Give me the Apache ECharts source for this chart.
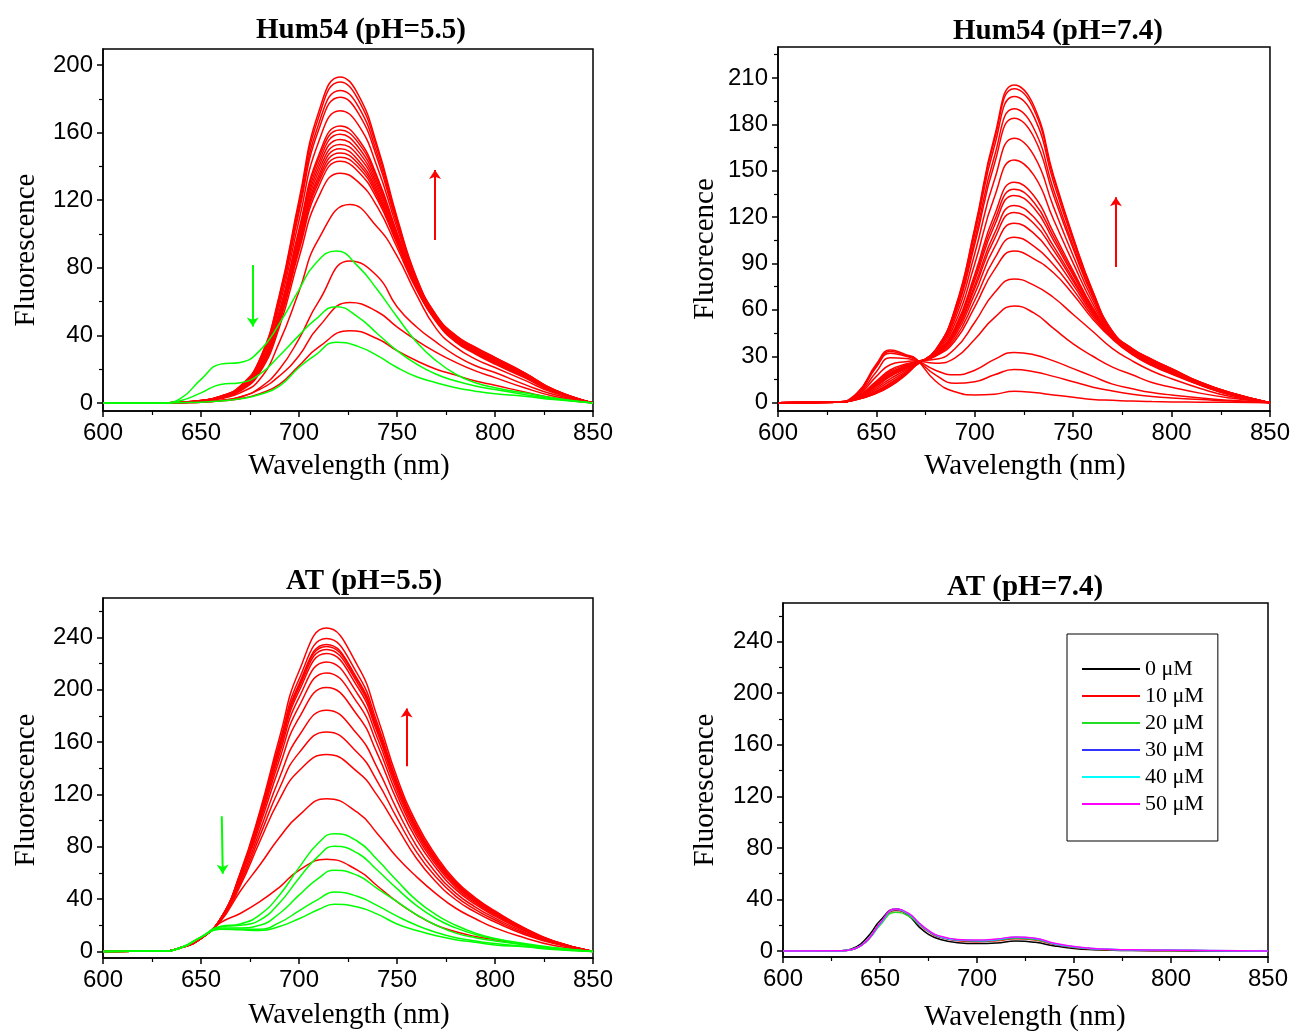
<!DOCTYPE html>
<html><head><meta charset="utf-8">
<script src="https://cdn.jsdelivr.net/npm/echarts/dist/echarts.min.js"></script>
<style>html,body{margin:0;padding:0;background:#fff}#c{width:1293px;height:1033px}</style>
</head><body><div id="c"></div><script>
// ---------------- DATA ----------------
// Hum54 pH 5.5
const wl1 = [600,630,640,650,660,670,680,690,700,710,721,730,740,750,760,770,780,790,800,815,830,850];
const hum55Red = [
 [0,0,0.5,1.5,4,10,26,64,120,172,193,183,152,110,74,52,40,33,27,18,8,0],
 [0,0,0.5,1.5,4,9.8,25.6,63,118,169,190,180,150,109,73.6,51.8,39.8,32.8,26.8,17.8,7.9,0],
 [0,0,0.5,1.4,3.9,9.6,24.9,61.3,115,165,185,176,147,107.5,73,51.4,39.4,32.4,26.4,17.6,7.8,0],
 [0,0,0.5,1.4,3.8,9.4,24.3,60,112.9,161.5,181,172,144.4,106,72.5,51.2,39.2,32.2,26.2,17.4,7.7,0],
 [0,0,0.4,1.3,3.7,9,23.2,57.4,108,154.5,173,165,139.4,103.7,71.6,50.6,38.6,31.6,25.6,17,7.5,0],
 [0,0,0.4,1.2,3.5,8.5,21.9,54.3,102.7,146.5,164,156.5,133.6,100.8,70.4,50,38,31,25,16.5,7.2,0],
 [0,0,0.4,1.2,3.5,8.4,21.6,53.6,101.3,144.5,161.5,154.4,132.2,100.1,70.2,49.8,37.8,30.8,24.8,16.4,7.2,0],
 [0,0,0.4,1.2,3.4,8.2,21.2,52.6,99.6,142,159,151.8,130.4,99.2,69.8,49.6,37.6,30.6,24.6,16.2,7.1,0],
 [0,0,0.4,1.2,3.4,8,20.8,51.7,97.9,139.5,156,149.2,128.6,98.3,69.5,49.4,37.4,30.4,24.4,16,7,0],
 [0,0,0.4,1.1,3.3,7.9,20.4,50.7,96.2,137,153,146.6,126.8,97.4,69.1,49.2,37.2,30.2,24.2,15.9,6.9,0],
 [0,0,0.4,1.1,3.3,7.8,20,49.8,94.5,134.5,150.5,144,125,96.5,68.8,49,37,30,24,15.8,6.9,0],
 [0,0,0.3,1.1,3.2,7.6,19.7,49,93.1,132.5,148,141.9,123.6,95.8,68.5,48.8,36.8,29.8,23.8,15.6,6.8,0],
 [0,0,0.3,1.1,3.2,7.5,19.4,48.2,91.8,130.5,145.5,139.8,122.1,95.1,68.2,48.7,36.7,29.7,23.7,15.5,6.8,0],
 [0,0,0.3,1,3.1,7.4,19,47.3,90.1,128,143,137.2,120.3,94.2,67.8,48.5,36.5,29.5,23.5,15.4,6.7,0],
 [0,0,0.3,1,3,7,18,45,86,122,136,131,116,92,67,48,36,29,23,15,6.5,0]
];
const wl1Low = [600,630,640,650,660,670,680,690,700,710,726,740,750,760,770,780,790,800,815,830,850];
const hum55RedLow = [
 [0,0,0.2,0.8,2.5,6,14,36,66,97,117.5,104,87,64,44,33,26,21,13.5,6,0],
 [0,0,0.2,0.5,1.5,3.5,9,20,38,60,84,75,57,45,36,28,22,18,11,5,0],
 [0,0,0.2,0.5,1.5,3.5,8,16,28,45,59.5,54,45,37,30,24,19,15,9,4,0],
 [0,0,0.2,0.5,1.2,2.5,5.5,11,22,33,42.8,38,31,25,20,16.5,13,10.5,6.5,3,0]
];
const wl1Green = [600,630,640,650,660,670,680,690,700,708,719,730,740,750,760,770,780,790,800,815,830,850];
const hum55Green = [
 [0,0,3,14,23,24,31,47,67,82,90,81,67,51,36,25,17,12,9,6,3,0],
 [0,0,1.5,6,11,12,17,28,40,49,57,51,41,31,23,17,13,10,8,5,2.5,0],
 [0,0,0.2,0.5,1.2,2.5,5,10,21,28,36,33.5,28,21,15.5,12,9,7,5.5,4,2,0]
];
// Hum54 pH 7.4
const wl2 = [600,630,640,650,657,665,670,680,690,700,710,720,730,740,750,760,770,780,790,800,815,830,850];
const hum74Red = [
 [0,0.2,2,6,10.5,18,24,34,61,113,172,205.5,192,147,107,72,46,35,28,22,13,6.5,0],
 [0,0.2,2,6.2,10.9,18.2,24.1,33.9,60.5,111.8,170,203,189.7,145.6,106.1,71.6,45.9,34.9,27.9,21.9,13,6.5,0],
 [0,0.2,2.1,6.6,11.4,18.5,24.2,33.7,59.6,109.4,166,198,185.1,142.6,104.4,70.7,45.7,34.7,27.7,21.8,12.9,6.4,0],
 [0,0.2,2.2,7.2,12.2,19,24.4,33.4,57.9,105.5,159.3,190,177.3,137.7,101.5,69.3,45.3,34.4,27.4,21.5,12.7,6.3,0],
 [0,0.2,2.3,7.6,12.7,19.4,24.5,33.2,56.7,102.6,154.5,184,171.8,134.1,99.5,68.3,45,34.2,27.2,21.3,12.6,6.2,0],
 [0,0.2,2.5,8.6,14,20.3,24.8,32.7,54.2,96.5,144.1,171,159.9,126.6,95,66.2,44.4,33.7,26.7,20.9,12.4,6,0],
 [0,0.3,2.7,9.6,15.4,21.2,25.1,32.2,51.4,89.8,133,157,147.1,118.4,90.2,63.8,43.7,33.2,26.2,20.4,12.1,5.8,0],
 [0,0.3,2.9,10.7,16.9,22.1,25.5,31.6,48.7,83,121.4,142.5,133.8,110,85.2,61.4,43.1,32.6,25.6,19.9,11.8,5.6,0],
 [0,0.3,2.9,11,17.3,22.4,25.6,31.5,47.8,80.9,117.8,138,129.6,107.3,83.7,60.7,42.9,32.5,25.5,19.8,11.7,5.6,0],
 [0,0.3,3,11.3,17.7,22.7,25.7,31.3,47.1,79,114.6,134,126,105,82.3,60,42.7,32.3,25.3,19.7,11.7,5.5,0],
 [0,0.3,3.1,11.8,18.3,23.1,25.8,31.1,45.8,75.9,109.5,127.5,120,101.2,80.1,58.9,42.4,32.1,25.1,19.5,11.5,5.4,0],
 [0,0.3,3.2,12.2,18.8,23.4,25.9,30.9,44.9,73.8,105.9,123,115.9,98.6,78.5,58.2,42.2,31.9,24.9,19.3,11.5,5.3,0],
 [0,0.3,3.3,12.7,19.4,23.8,26.1,30.7,43.5,70.5,100.4,116,109.5,94.5,76.2,57,41.8,31.7,24.7,19.1,11.3,5.3,0],
 [0,0.3,3.4,13.3,20.3,24.4,26.3,30.3,41.7,66.2,93.1,107,101.2,89.2,73.1,55.5,41.4,31.3,24.3,18.8,11.2,5.1,0],
 [0,0.3,3.5,14,21.2,25,26.5,30,40,62,86,98,93,84,70,54,41,31,24,18.5,11,5,0],
 [0,0.4,4,17,24.5,26.5,27,28,35,52,71,80,76,68,57,46,35,27,20.5,15.5,9,4,0],
 [0,0.4,4.5,20,29,28.5,27.5,25.5,29,41,55,62.5,58,48,38,30,23,18,13,10,6,3,0],
 [0,0.5,5,23,32,30,28,21,18,21,28,32.5,31,27,22,17,12,9,6.5,5,3,1.5,0],
 [0,0.5,5.5,24,33,30.5,28,18,12.5,13.5,18,21.5,20,17,13.5,10,7.5,5.5,4,3,2,1,0],
 [0,0.5,6,25,34,31,28.5,14,7,5,5.5,7.3,6.5,5,3.5,2,1.5,1,0.7,0.5,0.3,0.2,0]
];
// AT pH 5.5
const wl3Red = [600,630,640,650,660,670,680,690,700,714,730,740,750,760,770,780,790,800,815,830,850];
const at55Red = [
 [0,0.3,3,10,25,60,107,163,214,247,218,179,133,98,73,54,41,31,18,8,0],
 [0,0.3,3,10,25,59.2,105.2,159.2,207.9,239,211.5,174.2,130,95.8,71.4,52.8,40.1,30.3,17.6,7.8,0],
 [0,0.3,3,10,25,58.7,104.1,157,204.3,234.5,207.7,171.4,128.2,94.6,70.5,52.2,39.6,29.9,17.4,7.7,0],
 [0,0.3,3,10,25,58.6,103.7,156.3,203.2,233,206.5,170.5,127.6,94.2,70.2,51.9,39.4,29.8,17.3,7.7,0],
 [0,0.3,3,10,25,58.3,103.2,155.2,201.4,230.7,204.6,169,126.7,93.5,69.7,51.6,39.2,29.6,17.2,7.7,0],
 [0,0.3,3,10,25,58,102.4,153.6,198.8,227.6,201.8,167,125.4,92.6,69,51.1,38.8,29.3,17,7.6,0],
 [0,0.3,3,10,25,57.4,100.9,150.5,193.9,221.2,196.5,163.1,122.9,90.8,67.7,50.2,38.1,28.7,16.7,7.5,0],
 [0,0.3,3,10,24.8,56.5,98.9,146.5,187.2,212.8,189.5,157.9,119.6,88.5,66,48.9,37.1,28,16.2,7.3,0],
 [0,0.3,3,10,24.6,55.3,96.2,141,178.4,201.6,180.1,150.9,115.2,85.4,63.6,47.2,35.9,27,15.7,7.1,0],
 [0,0.3,3,10,24.4,53.5,92.1,132.5,164.8,184.3,165.5,140.1,108.4,80.5,60,44.6,33.9,25.5,14.8,6.7,0],
 [0,0.3,3,10,24.2,51.8,88.1,124.5,151.7,167.7,151.6,129.8,101.8,75.9,56.6,42.1,32,24,13.9,6.4,0],
 [0,0.3,3,10,24,50,84,116,138,150.4,137,119,95,71,53,39.5,30,22.5,13,6,0],
 [0,0.3,3,10,23,46,66,87,104,116.7,106,90,72,57,44,33,25,18,10.5,4.5,0],
 [0,0.3,3,10,22,29,38,49,62,70.4,62,50,38,28,20,15,11.5,9,5.5,2.5,0]
];
const wl3Green = [600,630,640,650,660,670,680,690,700,710,718,730,740,750,760,770,780,790,800,815,830,850];
const at55Green = [
 [0,0.3,3,11,19,21,28,43,64,83,90,84,70,54,39,28,20,14,10,6,3,0],
 [0,0.3,3,11,19,20,24,37,56,73,80.4,75,62,48,35,25,18,13,9.5,5.5,2.5,0],
 [0,0.3,3,11,18,18,20,29,43,56,62,58,48,38,28,20,14,10.5,8,5,2.5,0],
 [0,0.3,3,11,17,17,17,22,31,40,45.4,42,35,27,20,14.5,10.5,8,6,4,2,0],
 [0,0.3,3,11,17,16.5,16,19,25,32,36,34,28.5,21,16,12,9,7,5,3.5,1.5,0]
];
// AT pH 7.4
const wl4 = [600,630,635,640,645,650,658,665,670,675,680,690,700,710,720,730,740,750,760,770,780,800,820,850];
const at74Names = ['0 μM','10 μM','20 μM','30 μM','40 μM','50 μM'];
const at74 = [
 [0,0.3,1.5,5.5,13.5,23.5,32.7,27,19,13,9.5,6.5,5.8,6.3,7.8,6.8,4,2,1,0.6,0.4,0.2,0.1,0],
 [0,0.2,1,4,11,21,31.5,28,21,15,11,8,7.3,8,9.5,8.5,5,2.8,1.5,1,0.7,0.4,0.2,0],
 [0,0.2,1,4,10.5,20,30.2,27,21,15.5,11.5,8.5,7.8,8.5,10,9,5.5,3,1.7,1.1,0.8,0.5,0.3,0],
 [0,0.2,1,4,11,21,32.2,28.5,21.5,15.5,11.5,8.5,8,8.8,10.5,9.5,5.5,3.2,1.8,1.2,0.9,0.6,0.3,0],
 [0,0.2,1,4,11,21,32.4,28.7,21.7,15.7,11.7,8.7,8.2,9,10.7,9.7,5.7,3.3,1.9,1.3,1,0.7,0.4,0],
 [0,0.2,1,4,11,21.5,32.7,29,22,16,12,9,8.5,9.3,11,10,6,3.5,2,1.3,1,0.7,0.4,0]
];
// arrow annotations (data coordinates: [[x0,y0],[x1,y1]])
const hum55Arrows = [[[769.4,96.4],[769.4,137.9]], [[676.4,81.7],[676.4,45.2]]];
const hum74Arrows = [[[771.7,87.7],[771.7,132.9]]];
const at55Arrows = [[[754.9,141.4],[754.9,185.5]], [[660.6,103.2],[661.1,59.4]]];
// axis ticks
const yMajor = [[0,40,80,120,160,200],[0,30,60,90,120,150,180,210],[0,40,80,120,160,200,240],[0,40,80,120,160,200,240]];
const yMinor = [[20,60,100,140,180],[15,45,75,105,135,165,195,225],[20,60,100,140,180,220,260],[20,60,100,140,180,220,260]];
const yRange = [[-4.75,209.5],[-5.4,230],[-5,270],[-4.6,270]];
const titles = ['Hum54 (pH=5.5)','Hum54 (pH=7.4)','AT (pH=5.5)','AT (pH=7.4)'];
const yNames = ['Fluorescence','Fluorecence','Fluorescence','Fluorescence'];

// ---------------- LAYOUT / STYLE ----------------
const RED = '#ff0000', GREEN = '#00ff00';
const at74Colors = ['#000000','#ff0000','#22dd22','#3333ff','#00ffff','#ff00ff'];
const grids = [
 {left:103, top:49, width:490, height:362},
 {left:778, top:47, width:492, height:364},
 {left:103, top:598, width:490, height:360},
 {left:783, top:603, width:485, height:354}
];
const titlePos = [[361,31],[1058,32],[364,582],[1025,588]];
const yNamePos = [[26,250],[705,249],[26,790],[705,790]];
const xNamePos = [[349,466],[1025,466],[349,1015],[1025,1017]];

const xAxes = [], yAxes = [];
grids.forEach((g,i)=>{
  g.show = true; g.borderColor = '#000'; g.borderWidth = 1.5; g.containLabel = false;
  xAxes.push({gridIndex:i, type:'value', min:600, max:850, interval:50,
    axisLine:{onZero:false, lineStyle:{color:'#000', width:1.5}},
    axisTick:{length:6, lineStyle:{color:'#000', width:1.5}},
    minorTick:{show:true, splitNumber:2, length:4, lineStyle:{color:'#000', width:1.2}},
    axisLabel:{color:'#000', fontFamily:'Liberation Sans', fontSize:24, margin:10, showMinLabel:true, showMaxLabel:true},
    splitLine:{show:false}, minorSplitLine:{show:false}});
  yAxes.push({gridIndex:i, type:'value', min:yRange[i][0], max:yRange[i][1],
    axisLine:{show:true, onZero:false, lineStyle:{color:'#000', width:1.5}},
    axisTick:{show:true, length:6, customValues:yMajor[i], lineStyle:{color:'#000', width:1.5}},
    axisLabel:{customValues:yMajor[i], color:'#000', fontFamily:'Liberation Sans', fontSize:24, margin:10},
    splitLine:{show:false}});
  yAxes.push({gridIndex:i, type:'value', min:yRange[i][0], max:yRange[i][1], position:'left',
    axisLine:{show:false, onZero:false},
    axisTick:{show:true, length:4, customValues:yMinor[i], lineStyle:{color:'#000', width:1.2}},
    axisLabel:{show:false}, splitLine:{show:false}});
});

const series = [];
function addLine(gi, xs, ys, color, name, z){
  series.push({type:'line', name:name, xAxisIndex:gi, yAxisIndex:gi*2,
    data: xs.map((x,k)=>[x, ys[k]]), smooth:0.5, symbol:'none', showSymbol:false,
    lineStyle:{color:color, width:1.5}, itemStyle:{color:color}, silent:true, z:z||2, animation:false});
}
function addArrows(gi, arr, color){
  series.push({type:'lines', coordinateSystem:'cartesian2d', xAxisIndex:gi, yAxisIndex:gi*2,
    data: arr.map(c=>({coords:c})), symbol:['none','arrow'], symbolSize:[0,9],
    lineStyle:{color:color, width:2, opacity:1, curveness:0}, silent:true, z:5, animation:false});
}
hum55Red.forEach(d=>addLine(0, wl1, d, RED));
hum55RedLow.forEach(d=>addLine(0, wl1Low, d, RED));
hum55Green.forEach(d=>addLine(0, wl1Green, d, GREEN, undefined, 3));
addArrows(0, [hum55Arrows[0]], RED);
addArrows(0, [hum55Arrows[1]], GREEN);
hum74Red.forEach(d=>addLine(1, wl2, d, RED));
addArrows(1, hum74Arrows, RED);
at55Red.forEach(d=>addLine(2, wl3Red, d, RED));
at55Green.forEach(d=>addLine(2, wl3Green, d, GREEN, undefined, 3));
addArrows(2, [at55Arrows[0]], RED);
addArrows(2, [at55Arrows[1]], GREEN);
at74.forEach((d,k)=>addLine(3, wl4, d, at74Colors[k], at74Names[k], 2+k*0.1));

const graphic = [];
titles.forEach((t,i)=>graphic.push({type:'text', x:titlePos[i][0], y:titlePos[i][1], silent:true,
  style:{text:t, font:'bold 29px "Liberation Serif"', fill:'#000', align:'center', verticalAlign:'middle', textAlign:'center', textVerticalAlign:'middle'}}));
yNames.forEach((t,i)=>graphic.push({type:'text', x:yNamePos[i][0], y:yNamePos[i][1], rotation:Math.PI/2, silent:true,
  style:{text:t, font:'29px "Liberation Serif"', fill:'#000', align:'center', verticalAlign:'middle', textAlign:'center', textVerticalAlign:'middle'}}));
xNamePos.forEach((p,i)=>graphic.push({type:'text', x:p[0], y:p[1], silent:true,
  style:{text:'Wavelength (nm)', font:'29px "Liberation Serif"', fill:'#000', align:'center', verticalAlign:'middle', textAlign:'center', textVerticalAlign:'middle'}}));

const chart = echarts.init(document.getElementById('c'), null, {renderer:'canvas'});
chart.setOption({
  animation:false, backgroundColor:'#fff',
  grid: grids, xAxis: xAxes, yAxis: yAxes, series: series, graphic: graphic,
  legend:{show:true, data:at74Names, orient:'vertical', left:1067, top:634, icon:'rect', itemWidth:58, itemHeight:2, itemGap:5,
    padding:[24,14,26,15], borderColor:'#000', borderWidth:1, backgroundColor:'#fff', selectedMode:false,
    textStyle:{fontFamily:'Liberation Serif', fontSize:22, color:'#000', padding:[0,0,0,0]}}
});
</script></body></html>
